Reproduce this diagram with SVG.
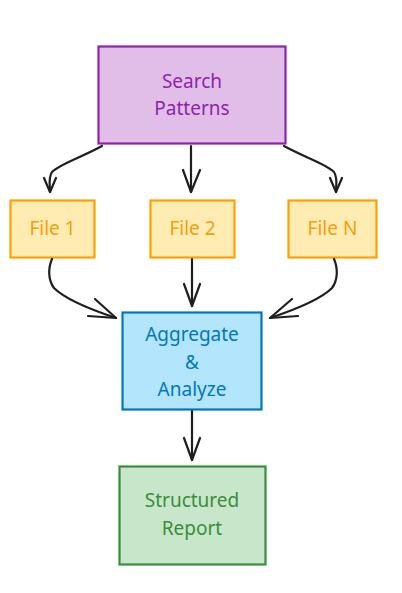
<svg xmlns="http://www.w3.org/2000/svg" width="402" height="593" viewBox="0 0 402 593">
<style>
.t{font-family:"Comic Sans MS","Noto Sans",sans-serif;font-size:19px;text-anchor:middle}
.c{fill:none;stroke:#1e1e1e;stroke-width:2.2;stroke-linecap:round;stroke-linejoin:round}
</style>
<rect width="402" height="593" fill="#ffffff"/>
<g id="search">
<rect x="98.5" y="46.5" width="187" height="97" fill="#e1bee7" stroke="#8e24aa" stroke-width="2.2"/>
<text class="t" x="192" y="88" fill="#8e24aa">Search</text>
<text class="t" x="192" y="115" fill="#8e24aa">Patterns</text>
</g>
<g id="file1">
<rect x="10.5" y="200.5" width="84" height="57" fill="#ffecb3" stroke="#ffa000" stroke-width="2.2"/>
<text class="t" x="52.5" y="235" fill="#f59e0b">File 1</text>
</g>
<g id="file2">
<rect x="150.5" y="200.5" width="84" height="57" fill="#ffecb3" stroke="#ffa000" stroke-width="2.2"/>
<text class="t" x="192.5" y="235" fill="#f59e0b">File 2</text>
</g>
<g id="fileN">
<rect x="288.5" y="200.5" width="88" height="57" fill="#ffecb3" stroke="#ffa000" stroke-width="2.2"/>
<text class="t" x="332.5" y="235" fill="#f59e0b">File N</text>
</g>
<g id="aggregate">
<rect x="122.5" y="312.5" width="139" height="97" fill="#b3e5fc" stroke="#0277bd" stroke-width="2.2"/>
<text class="t" x="192" y="341" fill="#0277bd">Aggregate</text>
<text class="t" x="192" y="369" fill="#0277bd">&amp;</text>
<text class="t" x="192" y="396" fill="#0277bd">Analyze</text>
</g>
<g id="report">
<rect x="119.5" y="466.5" width="146" height="98" fill="#c8e6c9" stroke="#388e3c" stroke-width="2.2"/>
<text class="t" x="192" y="507" fill="#388e3c">Structured</text>
<text class="t" x="192" y="535" fill="#388e3c">Report</text>
</g>
<g id="connectors">
<path class="c" d="M102 146 C80 158 60 164 52 172 C48 178 50 186 50 192"/>
<path class="c" d="M44 178 L50 192 L56 178"/>
<path class="c" d="M191 146 L191 192"/>
<path class="c" d="M183 170 L191 192 L200 170"/>
<path class="c" d="M284 146 C306 158 326 164 334 172 C338 178 336 186 336 192"/>
<path class="c" d="M330 178 L336 192 L342 178"/>
<path class="c" d="M52 259 C48 268 48 280 54 288 C66 300 92 310 116 318"/>
<path class="c" d="M95 299 L116 318 L88 316"/>
<path class="c" d="M192 259 L192 306"/>
<path class="c" d="M184 284 L192 306 L200 284"/>
<path class="c" d="M334 259 C338 268 338 280 332 288 C320 300 294 310 270 318"/>
<path class="c" d="M292 299 L270 318 L298 316"/>
<path class="c" d="M192 411 L192 460"/>
<path class="c" d="M184 438 L192 460 L200 438"/>
</g>
</svg>
